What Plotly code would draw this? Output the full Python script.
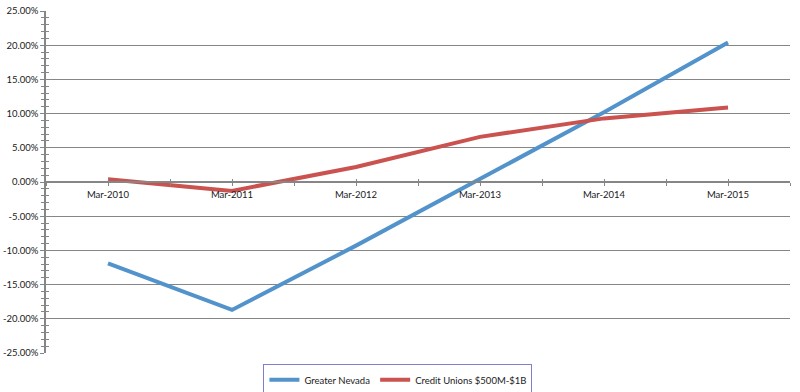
import plotly.graph_objects as go

categories = ["Mar-2010", "Mar-2011", "Mar-2012", "Mar-2013", "Mar-2014", "Mar-2015"]
greater_nevada = [-11.9, -18.7, -9.3, 0.4, 10.2, 20.4]
credit_unions = [0.4, -1.3, 2.2, 6.6, 9.3, 10.9]
y_ticks = [25, 20, 15, 10, 5, 0, -5, -10, -15, -20, -25]
y_tick_labels = [f"{v:.2f}%" for v in y_ticks]

x_idx = list(range(len(categories)))
font = "Lato, Liberation Sans, Arial, sans-serif"
axis_col = "#868686"

fig = go.Figure()
fig.add_trace(go.Scatter(x=x_idx, y=greater_nevada, mode="lines", name="Greater Nevada",
                         line=dict(color="#5393CB", width=4)))
fig.add_trace(go.Scatter(x=x_idx, y=credit_unions, mode="lines", name="Credit Unions $500M-$1B",
                         line=dict(color="#CA524F", width=4)))
# invisible helper trace to carry the overlay axes (tick marks on the other side)
fig.add_trace(go.Scatter(x=[x_idx[0]], y=[y_ticks[0]], xaxis="x2", yaxis="y2", mode="markers",
                         marker=dict(opacity=0), showlegend=False, hoverinfo="skip"))

fig.update_layout(
    width=800, height=392,
    margin=dict(l=46, r=10, t=11, b=39, autoexpand=False),
    paper_bgcolor="white", plot_bgcolor="white",
    font=dict(family=font, size=9.5, color="#1a1a1a"),
    showlegend=True,
    legend=dict(orientation="h", x=0.473, xanchor="center", y=-0.033, yanchor="top",
                bordercolor="#7F7FCF", borderwidth=1, bgcolor="white",
                font=dict(family=font, size=9.5, color="#1a1a1a"),
                itemwidth=30, tracegroupgap=0),
    xaxis=dict(range=[-0.5, 5.5], anchor="free", position=0.5, automargin=False,
               tickvals=x_idx, ticktext=categories,
               showline=True, linecolor=axis_col, linewidth=1.5,
               ticks="outside", ticklen=3, tickcolor=axis_col, tickwidth=1,
               minor=dict(ticks="outside", dtick=0.5, tick0=-0.5, ticklen=3, tickcolor=axis_col),
               showgrid=False, zeroline=False, ticklabelstandoff=1),
    yaxis=dict(range=[-25, 25], domain=[0, 1], automargin=False,
               tickvals=y_ticks, ticktext=y_tick_labels,
               showline=True, linecolor=axis_col, linewidth=1.5,
               ticks="outside", ticklen=4, tickcolor=axis_col, tickwidth=1,
               minor=dict(ticks="outside", dtick=1, ticklen=3, tickcolor=axis_col),
               showgrid=True, gridcolor=axis_col, gridwidth=1.2, zeroline=False),
    xaxis2=dict(range=[-0.5, 5.5], overlaying="x", anchor="free", position=0.5, automargin=False,
                tickvals=x_idx, showticklabels=False,
                ticks="inside", ticklen=3, tickcolor=axis_col,
                minor=dict(ticks="inside", dtick=0.5, tick0=-0.5, ticklen=3, tickcolor=axis_col),
                showgrid=False, zeroline=False, showline=False),
    yaxis2=dict(range=[-25, 25], overlaying="y", anchor="x2", automargin=False,
                tickvals=y_ticks, showticklabels=False,
                ticks="inside", ticklen=4, tickcolor=axis_col,
                minor=dict(ticks="inside", dtick=1, ticklen=3, tickcolor=axis_col),
                showgrid=False, zeroline=False, showline=False),
)

# remove the browser's default 8px page margin so the 800x392 figure fills the window
fig.write_html("out.html", config={"displayModeBar": False},
               post_script="document.body.style.margin='0';")
